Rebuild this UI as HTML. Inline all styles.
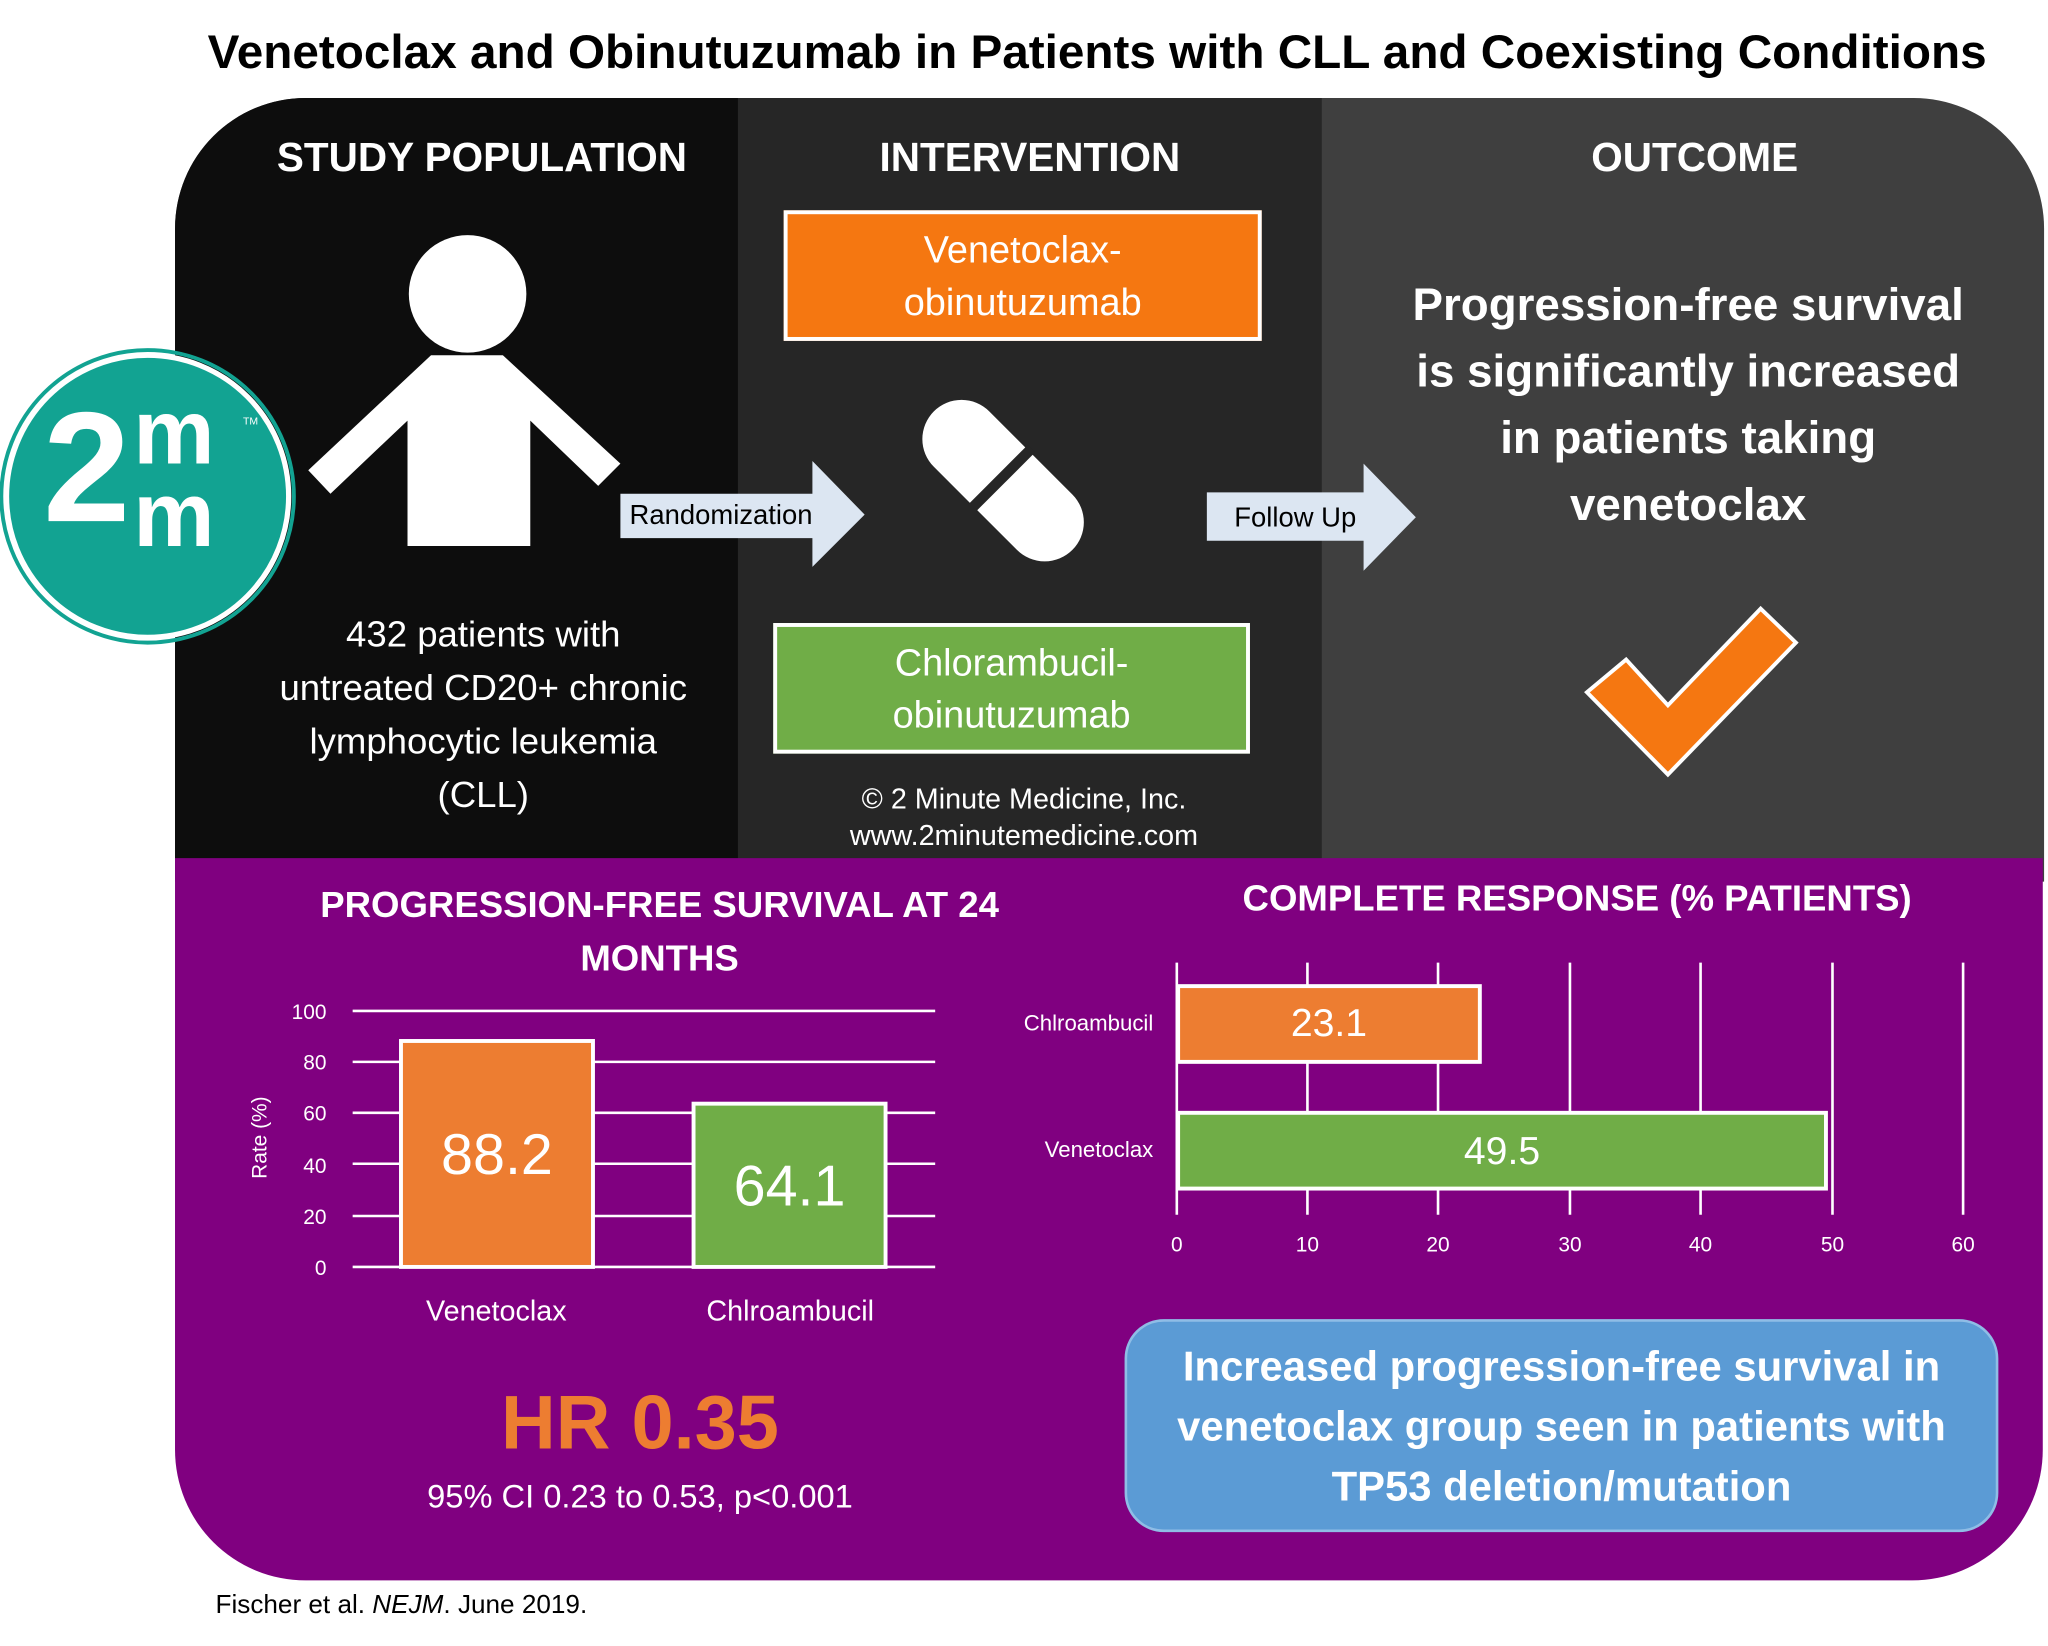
<!DOCTYPE html>
<html><head><meta charset="utf-8"><style>
html,body{margin:0;padding:0;background:#fff;width:2048px;height:1645px;overflow:hidden}
#w{position:absolute;left:0;top:0;width:1568px;height:1260px;transform:scale(1.30612);transform-origin:0 0;font-family:"Liberation Sans",sans-serif}
.a{position:absolute}
.c{text-align:center}
.wt{color:#fff}
</style></head><body><div id="w">
<div class="a c" style="left:90px;top:19px;width:1500px;font-size:36.5px;font-weight:bold;color:#000">Venetoclax and Obinutuzumab in Patients with CLL and Coexisting Conditions</div>

<div class="a" style="left:134px;top:75px;width:1431px;height:600px;border-radius:100px 100px 0 0;overflow:hidden;background:#3f3f3f">
 <div class="a" style="left:0;top:0;width:431px;height:600px;background:#0d0d0d"></div>
 <div class="a" style="left:431px;top:0;width:447px;height:600px;background:#262626"></div>
</div>
<div class="a" style="left:134px;top:657px;width:1430px;height:553px;background:#800080;border-radius:0 0 100px 100px"></div>

<div class="a c wt" style="left:134px;top:103px;width:470px;font-size:31px;font-weight:bold">STUDY POPULATION</div>
<div class="a c wt" style="left:565px;top:103px;width:447px;font-size:31px;font-weight:bold">INTERVENTION</div>
<div class="a c wt" style="left:1030px;top:103px;width:535px;font-size:31px;font-weight:bold">OUTCOME</div>

<svg class="a" style="left:0;top:0" width="1568" height="1260">
 <circle cx="113" cy="380" r="108" fill="#12a392" stroke="#fff" stroke-width="4"/>
 <circle cx="113" cy="380" r="112" fill="none" stroke="#12a392" stroke-width="3"/>
 <circle cx="358" cy="225" r="45" fill="#fff"/>
 <path d="M330 272 L385 272 L475 355 L458 372 L406 322 L406 418 L312 418 L312 322 L253 378 L236 360 Z" fill="#fff"/>
 <path d="M475 378 L622 378 L622 353 L662 394 L622 434 L622 412 L475 412 Z" fill="#dce6f2"/>
 <path d="M924 377 L1044 377 L1044 355 L1084 396 L1044 437 L1044 414 L924 414 Z" fill="#dce6f2"/>
 <g transform="rotate(-45 768 368)">
  <rect x="738" y="293" width="60" height="150" rx="30" fill="#fff"/>
  <rect x="735" y="362" width="66" height="8" fill="#262626"/>
 </g>
 <path d="M1215 530 L1245 505 L1277 540 L1348 466 L1375 492 L1277 593 Z" fill="#f57711" stroke="#fff" stroke-width="3"/>
 <g stroke="#fff" stroke-width="2">
  <line x1="270" y1="774" x2="716" y2="774"/><line x1="270" y1="813" x2="716" y2="813"/>
  <line x1="270" y1="852" x2="716" y2="852"/><line x1="270" y1="891" x2="716" y2="891"/>
  <line x1="270" y1="931" x2="716" y2="931"/><line x1="270" y1="970" x2="716" y2="970"/>
 </g>
 <rect x="307" y="797" width="147" height="173" fill="#ed7d31" stroke="#fff" stroke-width="3"/>
 <rect x="531" y="845" width="147" height="125" fill="#70ad47" stroke="#fff" stroke-width="3"/>
 <g stroke="#fff" stroke-width="2">
  <line x1="901" y1="737" x2="901" y2="930"/><line x1="1001" y1="737" x2="1001" y2="930"/>
  <line x1="1101" y1="737" x2="1101" y2="930"/><line x1="1202" y1="737" x2="1202" y2="930"/>
  <line x1="1302" y1="737" x2="1302" y2="930"/><line x1="1403" y1="737" x2="1403" y2="930"/>
  <line x1="1503" y1="737" x2="1503" y2="930"/>
 </g>
 <rect x="902" y="755" width="231" height="58" fill="#ed7d31" stroke="#fff" stroke-width="3"/>
 <rect x="902" y="852" width="496" height="58" fill="#70ad47" stroke="#fff" stroke-width="3"/>
</svg>

<div class="a wt" style="left:33px;top:298px;font-size:120px;font-weight:bold;line-height:1;letter-spacing:-4px">2</div>
<div class="a wt" style="left:102px;top:300px;font-size:70px;font-weight:bold;line-height:0.9">m<br>m</div>
<div class="a wt" style="left:186px;top:318px;font-size:8px">TM</div>

<div class="a c wt" style="left:600px;top:161px;width:366px;height:100px;box-sizing:border-box;background:#f57711;border:3px solid #fff;font-size:29px;line-height:40px;padding-top:8px">Venetoclax-<br>obinutuzumab</div>
<div class="a c wt" style="left:592px;top:477px;width:365px;height:100px;box-sizing:border-box;background:#70ad47;border:3px solid #fff;font-size:29px;line-height:40px;padding-top:8px">Chlorambucil-<br>obinutuzumab</div>
<div class="a" style="left:482px;top:383px;font-size:21px;color:#000">Randomization</div>
<div class="a" style="left:945px;top:385px;font-size:21px;color:#000">Follow Up</div>
<div class="a c wt" style="left:170px;top:465px;width:400px;font-size:28px;line-height:41px">432 patients with<br>untreated CD20+ chronic<br>lymphocytic leukemia<br>(CLL)</div>
<div class="a c wt" style="left:584px;top:598px;width:400px;font-size:22px;line-height:28px">© 2 Minute Medicine, Inc.<br>www.2minutemedicine.com</div>
<div class="a c wt" style="left:1040px;top:208px;width:505px;font-size:35px;font-weight:bold;line-height:51px">Progression-free survival<br>is significantly increased<br>in patients taking<br>venetoclax</div>

<div class="a c wt" style="left:210px;top:672px;width:590px;font-size:28px;font-weight:bold;line-height:41px">PROGRESSION-FREE SURVIVAL AT 24<br>MONTHS</div>
<div class="a c wt" style="left:900px;top:672px;width:615px;font-size:28px;font-weight:bold">COMPLETE RESPONSE (% PATIENTS)</div>

<div class="a wt" style="left:210px;top:756px;width:40px;text-align:right;font-size:16px;line-height:39.2px">100<br>80<br>60<br>40<br>20<br>0</div>
<div class="a wt" style="left:160px;top:862px;width:80px;text-align:center;font-size:16px;transform:rotate(-90deg)">Rate (%)</div>
<div class="a c wt" style="left:307px;top:860px;width:147px;font-size:44px">88.2</div>
<div class="a c wt" style="left:531px;top:884px;width:147px;font-size:44px">64.1</div>
<div class="a c wt" style="left:280px;top:991px;width:200px;font-size:22px">Venetoclax</div>
<div class="a c wt" style="left:505px;top:991px;width:200px;font-size:22px">Chlroambucil</div>
<div class="a c" style="left:290px;top:1056px;width:400px;font-size:58px;font-weight:bold;color:#ed7d31">HR 0.35</div>
<div class="a c wt" style="left:280px;top:1132px;width:420px;font-size:25px">95% CI 0.23 to 0.53, p&lt;0.001</div>

<div class="a wt" style="left:740px;top:774px;width:143px;text-align:right;font-size:17px">Chlroambucil</div>
<div class="a wt" style="left:740px;top:871px;width:143px;text-align:right;font-size:17px">Venetoclax</div>
<div class="a c wt" style="left:902px;top:767px;width:231px;font-size:30px">23.1</div>
<div class="a c wt" style="left:902px;top:865px;width:496px;font-size:30px">49.5</div>
<div class="a wt" style="font-size:16px;top:945px;left:891px;width:20px;text-align:center">0</div>
<div class="a wt" style="font-size:16px;top:945px;left:986px;width:30px;text-align:center">10</div>
<div class="a wt" style="font-size:16px;top:945px;left:1086px;width:30px;text-align:center">20</div>
<div class="a wt" style="font-size:16px;top:945px;left:1187px;width:30px;text-align:center">30</div>
<div class="a wt" style="font-size:16px;top:945px;left:1287px;width:30px;text-align:center">40</div>
<div class="a wt" style="font-size:16px;top:945px;left:1388px;width:30px;text-align:center">50</div>
<div class="a wt" style="font-size:16px;top:945px;left:1488px;width:30px;text-align:center">60</div>

<div class="a c wt" style="left:861px;top:1010px;width:669px;height:163px;box-sizing:border-box;background:#5b9bd5;border:2px solid #8fbde6;border-radius:30px;font-size:32px;font-weight:bold;line-height:46px;padding-top:11px">Increased progression-free survival in<br>venetoclax group seen in patients with<br>TP53 deletion/mutation</div>

<div class="a" style="left:165px;top:1218px;font-size:20px;color:#000">Fischer et al. <i>NEJM</i>. June 2019.</div>
</div></body></html>
